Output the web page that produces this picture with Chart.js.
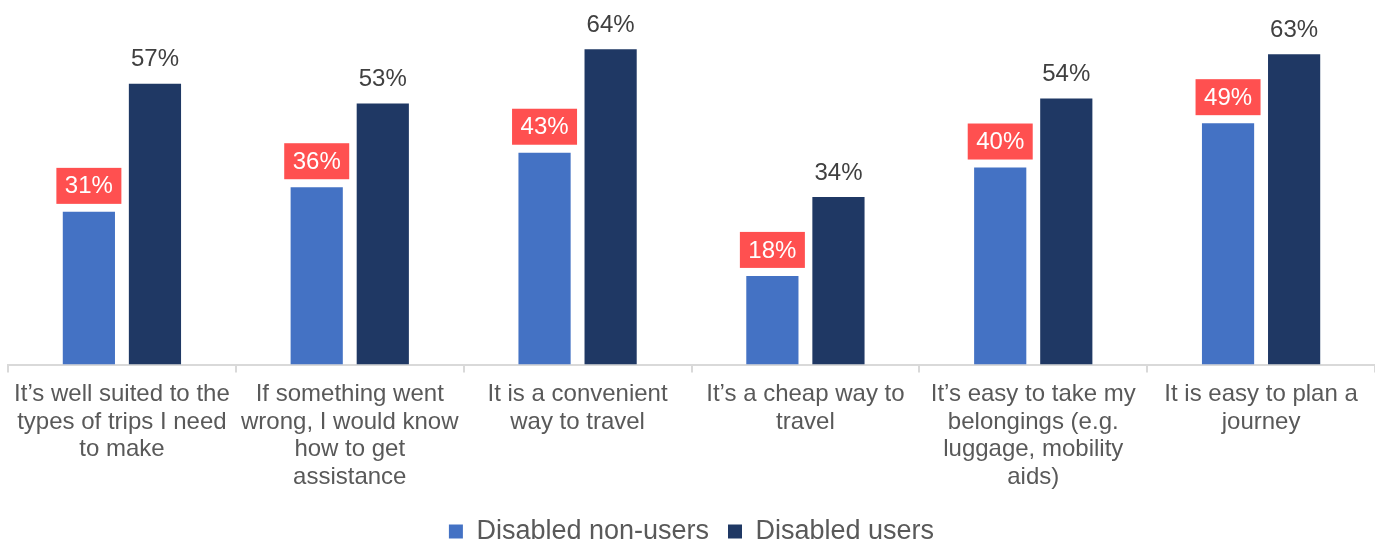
<!DOCTYPE html>
<html>
<head>
<meta charset="utf-8">
<script src="https://cdn.jsdelivr.net/npm/chart.js@4/dist/chart.umd.min.js"></script>
<style>
  html, body { margin: 0; padding: 0; background: #fff; }
  #wrap { width: 1375px; height: 539px; position: relative; }
</style>
</head>
<body>
<div id="wrap"><canvas id="chart"></canvas></div>
<script>
// categories (multi-line axis labels) and series
const categories = [
  ["It\u2019s well suited to the", "types of trips I need", "to make"],
  ["If something went", "wrong, I would know", "how to get", "assistance"],
  ["It is a convenient", "way to travel"],
  ["It\u2019s a cheap way to", "travel"],
  ["It\u2019s easy to take my", "belongings (e.g.", "luggage, mobility", "aids)"],
  ["It is easy to plan a", "journey"],
];
const nonUsers = [31, 36, 43, 18, 40, 49];
const users = [57, 53, 64, 34, 54, 63];

const C = {
  light: "#4472C4",
  dark: "#1F3864",
  badge: "#FF5050",
  text: "#595959",
  label: "#404040",
  axis: "#D9D9D9",
};
const FONT = "'Liberation Sans', Arial, sans-serif";

// value labels: red badge over the light bars, plain text over the dark ones
const valueLabels = {
  id: "valueLabels",
  afterDatasetsDraw(chart) {
    const ctx = chart.ctx;
    ctx.save();
    ctx.font = `24px ${FONT}`;
    ctx.textAlign = "center";
    ctx.textBaseline = "middle";
    chart.data.datasets.forEach((ds, di) => {
      chart.getDatasetMeta(di).data.forEach((bar, i) => {
        const txt = ds.data[i] + "%";
        if (di === 0) {
          const w = 65, h = 36;
          const top = bar.y - 8 - h;
          ctx.fillStyle = C.badge;
          ctx.fillRect(bar.x - w / 2, top, w, h);
          ctx.fillStyle = "#fff";
          ctx.fillText(txt, bar.x, top + h / 2 + 1);
        } else {
          ctx.fillStyle = C.label;
          ctx.fillText(txt, bar.x, bar.y - 24);
        }
      });
    });
    ctx.restore();
  },
};

new Chart(document.getElementById("chart"), {
  type: "bar",
  data: {
    labels: categories,
    datasets: [
      { label: "Disabled non-users", data: nonUsers, backgroundColor: C.light },
      { label: "Disabled users", data: users, backgroundColor: C.dark },
    ],
  },
  options: {
    responsive: true,
    maintainAspectRatio: false,
    animation: false,
    categoryPercentage: 0.58,
    barPercentage: 0.79,
    layout: { padding: { left: 8, right: 0, top: 0, bottom: -16 } },
    plugins: {
      tooltip: { enabled: false },
      legend: {
        position: "bottom",
        labels: {
          font: { family: FONT, size: 27 },
          color: C.text,
          boxWidth: 14,
          boxHeight: 14,
          padding: 19,
        },
      },
    },
    scales: {
      x: {
        border: { color: C.axis, width: 2 },
        grid: { color: C.axis, lineWidth: 2, drawOnChartArea: false, tickLength: 8, offset: true },
        ticks: {
          color: C.text,
          font: { family: FONT, size: 24, lineHeight: 1.15 },
          maxRotation: 0,
          autoSkip: false,
          padding: 8,
        },
      },
      y: { display: false, min: 0, max: 74 },
    },
  },
  plugins: [valueLabels],
});
</script>
</body>
</html>
